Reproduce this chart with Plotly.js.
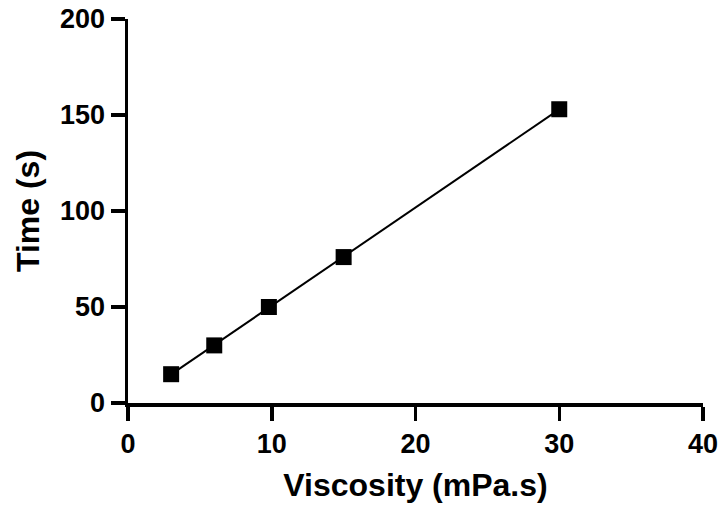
<!DOCTYPE html>
<html>
<head>
<meta charset="utf-8">
<script src="https://cdn.plot.ly/plotly-3.0.1.min.js"></script>
<style>html,body{margin:0;padding:0;background:#fff;}#chart{width:724px;height:508px;}</style>
</head>
<body>
<div id="chart"></div>
<script>
// Data
const viscosity = [3, 6, 9.8, 15, 30];      // mPa.s
const timeS = [15, 30, 50, 76, 153];        // s
const xTickVals = [0, 10, 20, 30, 40];
const yTickVals = [0, 50, 100, 150, 200];

// Linear regression line through the data (as in the original fit)
const n = viscosity.length;
const mx = viscosity.reduce((a, b) => a + b, 0) / n;
const my = timeS.reduce((a, b) => a + b, 0) / n;
let sxy = 0, sxx = 0;
for (let i = 0; i < n; i++) { sxy += (viscosity[i] - mx) * (timeS[i] - my); sxx += (viscosity[i] - mx) ** 2; }
const slope = sxy / sxx, intercept = my - slope * mx;
const fitX = [Math.min(...viscosity), Math.max(...viscosity)];
const fitY = fitX.map(x => intercept + slope * x);

const font = {family: 'Liberation Sans, Arial, sans-serif', color: '#000', weight: 'bold'};

const traces = [
  {x: fitX, y: fitY, mode: 'lines', line: {color: '#000', width: 2}, hoverinfo: 'skip', showlegend: false},
  {x: viscosity, y: timeS, mode: 'markers', marker: {symbol: 'square', size: 16, color: '#000'}, showlegend: false}
];

const axisCommon = {
  showgrid: false, zeroline: false, showline: true, linecolor: '#000', linewidth: 3.5,
  ticks: 'outside', ticklen: 14, tickwidth: 3.5, tickcolor: '#000',
  tickfont: Object.assign({size: 27}, font)
};

const layout = {
  width: 724, height: 508,
  margin: {l: 128, r: 21, t: 19, b: 105},
  paper_bgcolor: '#fff', plot_bgcolor: '#fff',
  xaxis: Object.assign({}, axisCommon, {
    range: [0, 40], tickvals: xTickVals,
    title: {text: 'Viscosity (mPa.s)', font: Object.assign({size: 32}, font), standoff: 16}
  }),
  yaxis: Object.assign({}, axisCommon, {
    range: [0, 200], tickvals: yTickVals,
    title: {text: 'Time (s)', font: Object.assign({size: 32}, font), standoff: 12}
  })
};

Plotly.newPlot('chart', traces, layout, {displayModeBar: false, staticPlot: true});
</script>
</body>
</html>
